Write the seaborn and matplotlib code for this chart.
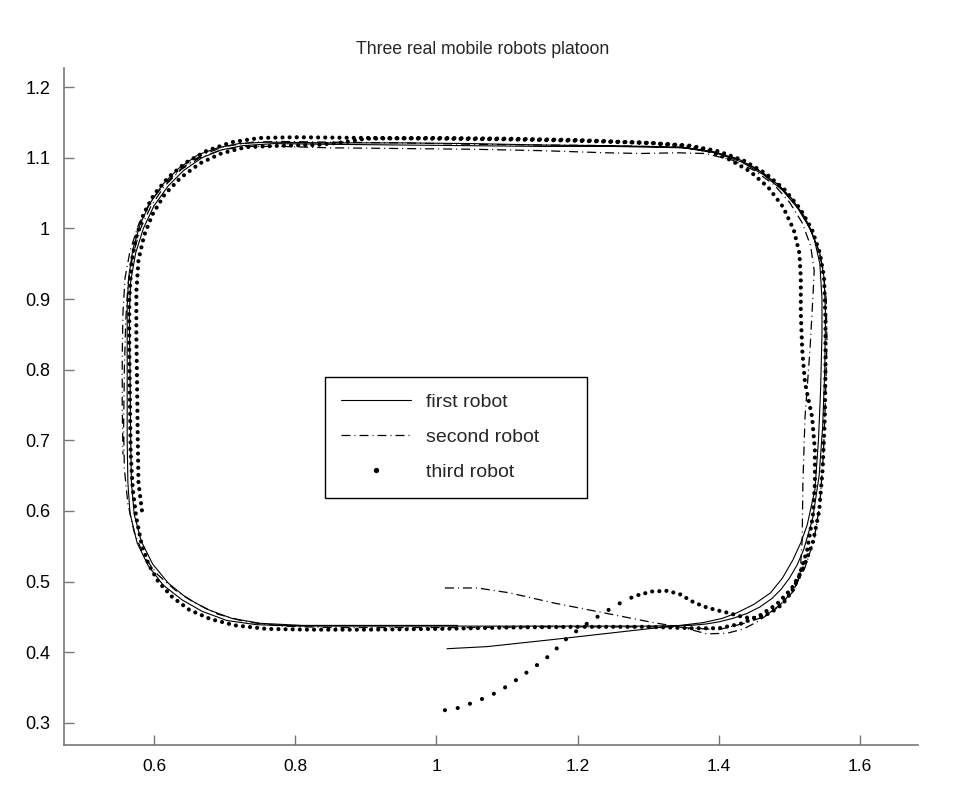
import numpy as np
import pandas as pd
import matplotlib
matplotlib.use("Agg")
import matplotlib.pyplot as plt
from matplotlib.lines import Line2D
import seaborn as sns

# --- data: (x, y) positions of the three robots ---
first_path = [
    (1.015, 0.405), (1.072, 0.408), (1.165, 0.418), (1.236, 0.426), (1.307, 0.434), (1.345, 0.438),
    (1.378, 0.442), (1.405, 0.448), (1.426, 0.456), (1.450, 0.468), (1.473, 0.484), (1.490, 0.505),
    (1.505, 0.531), (1.516, 0.555), (1.525, 0.580), (1.536, 0.630), (1.541, 0.700),
    (1.544, 0.770), (1.546, 0.850), (1.546, 0.900), (1.543, 0.950), (1.535, 0.985), (1.522, 1.015),
    (1.505, 1.040), (1.485, 1.061), (1.460, 1.080), (1.430, 1.097), (1.395, 1.108), (1.345, 1.115),
    (1.250, 1.117), (1.150, 1.118), (1.050, 1.120), (0.950, 1.121), (0.850, 1.121), (0.760, 1.122),
    (0.720, 1.120), (0.690, 1.114), (0.662, 1.104), (0.635, 1.085), (0.612, 1.062), (0.594, 1.035),
    (0.580, 1.005), (0.570, 0.970), (0.564, 0.930), (0.562, 0.890), (0.562, 0.800), (0.562, 0.700),
    (0.563, 0.640), (0.566, 0.597), (0.576, 0.555), (0.592, 0.522), (0.613, 0.495), (0.640, 0.474),
    (0.668, 0.458), (0.703, 0.445), (0.745, 0.439), (0.807, 0.437), (0.900, 0.437), (1.000, 0.437),
    (1.100, 0.437), (1.200, 0.437), (1.300, 0.437), (1.360, 0.438),
    (1.382, 0.440), (1.400, 0.443), (1.420, 0.448), (1.440, 0.455), (1.458, 0.464), (1.475, 0.476),
    (1.488, 0.489), (1.500, 0.505), (1.511, 0.524), (1.520, 0.545), (1.533, 0.590),
    (1.542, 0.650), (1.547, 0.720), (1.550, 0.800), (1.551, 0.880), (1.549, 0.930), (1.543, 0.965),
    (1.530, 0.998), (1.512, 1.028), (1.490, 1.054), (1.463, 1.076), (1.432, 1.094), (1.395, 1.107),
    (1.350, 1.114), (1.250, 1.116), (1.150, 1.116), (1.050, 1.117), (0.950, 1.118), (0.850, 1.119),
    (0.770, 1.120), (0.725, 1.117), (0.695, 1.111), (0.668, 1.100), (0.642, 1.082), (0.620, 1.060),
    (0.600, 1.032), (0.585, 1.000), (0.574, 0.965), (0.567, 0.925), (0.565, 0.880), (0.566, 0.800),
    (0.567, 0.700), (0.568, 0.640), (0.572, 0.595), (0.582, 0.557), (0.598, 0.525), (0.620, 0.498),
    (0.646, 0.477), (0.675, 0.461), (0.710, 0.448), (0.750, 0.441), (0.810, 0.438), (0.900, 0.438),
    (0.970, 0.438), (1.030, 0.438),
]

second_path = [
    (1.012, 0.491), (1.058, 0.491), (1.104, 0.484), (1.165, 0.470), (1.236, 0.456), (1.307, 0.442),
    (1.349, 0.435), (1.383, 0.426), (1.412, 0.427), (1.435, 0.433), (1.454, 0.443), (1.473, 0.456),
    (1.492, 0.472), (1.507, 0.488), (1.515, 0.510), (1.518, 0.560), (1.519, 0.640), (1.522, 0.733),
    (1.529, 0.828), (1.533, 0.900), (1.535, 0.940), (1.530, 0.975), (1.518, 1.008), (1.500, 1.037),
    (1.478, 1.062), (1.450, 1.082), (1.418, 1.097), (1.380, 1.106), (1.340, 1.107), (1.290, 1.106),
    (1.240, 1.107), (1.150, 1.110), (1.050, 1.112), (0.950, 1.113), (0.850, 1.114), (0.780, 1.116),
    (0.730, 1.116), (0.695, 1.111), (0.665, 1.100), (0.638, 1.083), (0.615, 1.060), (0.596, 1.032),
    (0.581, 1.000), (0.570, 0.962), (0.563, 0.920), (0.560, 0.870), (0.558, 0.800), (0.557, 0.720),
    (0.558, 0.660), (0.563, 0.610), (0.572, 0.570), (0.586, 0.535), (0.605, 0.510), (0.630, 0.488),
    (0.658, 0.470), (0.690, 0.454), (0.730, 0.443), (0.780, 0.437), (0.850, 0.435), (0.950, 0.435),
    (1.050, 0.435), (1.150, 0.436), (1.250, 0.436), (1.330, 0.436), (1.400, 0.432),
    (1.440, 0.442), (1.463, 0.450), (1.485, 0.465), (1.505, 0.487), (1.522, 0.520), (1.535, 0.560),
    (1.543, 0.610), (1.548, 0.680), (1.551, 0.760), (1.553, 0.840), (1.552, 0.900), (1.547, 0.945),
    (1.538, 0.980), (1.524, 1.012), (1.505, 1.040), (1.482, 1.064), (1.455, 1.084), (1.422, 1.100),
    (1.385, 1.110), (1.340, 1.115), (1.250, 1.117), (1.150, 1.118), (1.050, 1.119), (0.950, 1.121),
    (0.850, 1.122), (0.780, 1.123), (0.740, 1.122), (0.700, 1.116), (0.668, 1.104), (0.640, 1.086),
    (0.614, 1.062), (0.594, 1.036), (0.578, 1.005), (0.566, 0.968), (0.559, 0.930), (0.556, 0.880),
    (0.555, 0.820), (0.555, 0.750), (0.556, 0.680),
]

# third robot: the fast launch from its start, then its laps
third_launch = [
    (1.012, 0.318), (1.030, 0.321), (1.050, 0.328), (1.070, 0.336), (1.087, 0.344), (1.105, 0.355),
    (1.123, 0.368), (1.140, 0.380), (1.157, 0.393), (1.172, 0.407), (1.185, 0.420), (1.205, 0.435),
    (1.226, 0.449), (1.252, 0.465), (1.270, 0.475), (1.286, 0.481),
]
third_path = [
    (1.286, 0.481), (1.305, 0.486), (1.327, 0.487), (1.345, 0.482), (1.362, 0.472), (1.378, 0.465),
    (1.395, 0.460), (1.412, 0.456), (1.430, 0.451), (1.445, 0.448), (1.460, 0.450), (1.475, 0.457),
    (1.490, 0.468), (1.502, 0.484), (1.513, 0.505), (1.525, 0.545), (1.533, 0.592), (1.536, 0.640),
    (1.536, 0.686), (1.532, 0.733), (1.522, 0.781), (1.518, 0.828), (1.516, 0.880), (1.516, 0.930),
    (1.514, 0.965), (1.506, 0.998), (1.491, 1.030), (1.470, 1.058), (1.445, 1.080), (1.416, 1.097),
    (1.385, 1.110), (1.350, 1.117), (1.300, 1.121), (1.200, 1.124), (1.100, 1.126), (1.000, 1.127),
    (0.900, 1.128), (0.800, 1.129), (0.750, 1.128), (0.710, 1.122), (0.675, 1.110), (0.645, 1.093),
    (0.620, 1.072), (0.600, 1.048), (0.585, 1.020), (0.574, 0.985), (0.568, 0.950), (0.565, 0.900),
    (0.565, 0.830), (0.566, 0.750), (0.567, 0.680), (0.570, 0.630), (0.575, 0.590), (0.582, 0.555),
    (0.592, 0.525), (0.606, 0.500), (0.626, 0.478), (0.650, 0.460), (0.680, 0.447), (0.715, 0.438),
    (0.760, 0.433), (0.820, 0.432), (0.900, 0.432), (1.000, 0.433), (1.100, 0.435), (1.200, 0.436),
    (1.300, 0.436), (1.360, 0.434), (1.400, 0.434), (1.430, 0.440), (1.458, 0.452), (1.482, 0.468),
    (1.503, 0.490), (1.520, 0.520), (1.533, 0.555), (1.542, 0.600), (1.547, 0.660), (1.550, 0.730),
    (1.551, 0.800), (1.551, 0.870), (1.549, 0.930), (1.543, 0.965), (1.532, 0.998), (1.515, 1.028),
    (1.493, 1.055), (1.466, 1.078), (1.435, 1.096), (1.400, 1.109), (1.360, 1.117), (1.300, 1.121),
    (1.200, 1.125), (1.100, 1.127), (1.000, 1.128), (0.900, 1.127), (0.870, 1.122), (0.830, 1.118),
    (0.780, 1.117), (0.730, 1.115), (0.695, 1.106), (0.665, 1.092), (0.638, 1.072), (0.615, 1.048),
    (0.598, 1.020), (0.586, 0.990), (0.578, 0.955), (0.575, 0.910), (0.575, 0.850), (0.576, 0.780),
    (0.577, 0.700), (0.578, 0.640), (0.583, 0.600),
]

labels = ["first robot", "second robot", "third robot"]
x_ticks = [0.6, 0.8, 1.0, 1.2, 1.4, 1.6]
x_tick_labels = ["0.6", "0.8", "1", "1.2", "1.4", "1.6"]
y_ticks = [0.3, 0.4, 0.5, 0.6, 0.7, 0.8, 0.9, 1.0, 1.1, 1.2]
y_tick_labels = ["0.3", "0.4", "0.5", "0.6", "0.7", "0.8", "0.9", "1", "1.1", "1.2"]


def to_df(path):
    return pd.DataFrame(path, columns=["x", "y"])


sns.set_style("ticks")
plt.rcParams['font.family'] = ['Liberation Sans', 'DejaVu Sans']
plt.rcParams['xtick.direction'] = 'in'
plt.rcParams['ytick.direction'] = 'in'

fig = plt.figure(figsize=(9.65, 8), dpi=100)
ax = fig.add_axes([0.0663, 0.069, 0.885, 0.846])

dashdot = (0, (7.2, 3.2, 0.8, 3.2))

sns.lineplot(data=to_df(first_path), x="x", y="y", sort=False, estimator=None,
             color="black", lw=0.8, ax=ax)
sns.lineplot(data=to_df(second_path), x="x", y="y", sort=False, estimator=None,
             color="black", lw=0.9, linestyle=dashdot, ax=ax)
sns.lineplot(data=to_df(third_launch), x="x", y="y", sort=False, estimator=None,
             color="black", lw=3, linestyle=(0, (0.01, 3.1)), dash_capstyle="round", ax=ax)
sns.lineplot(data=to_df(third_path), x="x", y="y", sort=False, estimator=None,
             color="black", lw=3, linestyle=(0, (0.01, 1.7)), dash_capstyle="round", ax=ax)

ax.set_xlim(0.4725, 1.682)
ax.set_ylim(0.269, 1.227)
ax.set_xticks(x_ticks)
ax.set_xticklabels(x_tick_labels, fontsize=12.5)
ax.set_yticks(y_ticks)
ax.set_yticklabels(y_tick_labels, fontsize=13)
ax.set_xlabel("")
ax.set_ylabel("")
ax.tick_params(direction="in", length=7, width=1, color="#777777", labelcolor="black", pad=10,
               bottom=True, left=True, top=False, right=False)
for side in ["top", "right"]:
    ax.spines[side].set_visible(False)
for side in ["left", "bottom"]:
    ax.spines[side].set_color("#777777")
    ax.spines[side].set_linewidth(1.2)

ax.set_title("Three real mobile robots platoon", fontsize=12.7, pad=10, x=0.4906)

handles = [Line2D([], [], color="black", lw=0.8),
           Line2D([], [], color="black", lw=0.9, linestyle=dashdot),
           Line2D([], [], color="black", ls="none", marker="o", markersize=2.8)]
leg = ax.legend(handles, labels, loc="upper left", bbox_to_anchor=(0.3056, 0.366, 0.3064, 0.1776),
                mode="expand", fontsize=14, handlelength=3.6, handletextpad=0.75, borderpad=0.85,
                labelspacing=0.9, borderaxespad=0, fancybox=False, framealpha=1)
leg.get_frame().set_edgecolor("black")
leg.get_frame().set_linewidth(1.0)

fig.savefig("out.png", dpi=100)
